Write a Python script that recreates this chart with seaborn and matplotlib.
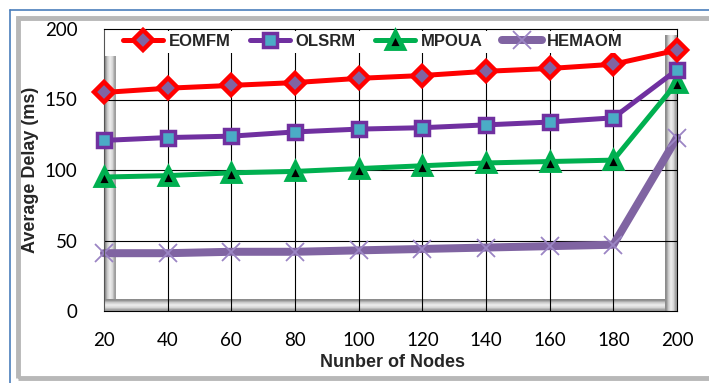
import numpy as np
import pandas as pd
import matplotlib
matplotlib.use("Agg")
import matplotlib.pyplot as plt
import seaborn as sns
from matplotlib.patches import Rectangle
from matplotlib.lines import Line2D

nodes = [20, 40, 60, 80, 100, 120, 140, 160, 180, 200]
eomfm = [155, 158, 160, 162, 165, 167, 170, 172, 175, 185]
olsrm = [121, 123, 124, 127, 129, 130, 132, 134, 137, 171]
mpoua = [95, 96, 98, 99, 101, 103, 105, 106, 107, 162]
hemaom = [41, 41, 42, 42, 43, 44, 45, 46, 47, 123]
yticks = [0, 50, 100, 150, 200]

sns.set_theme(style="white")
plt.rcParams['font.family'] = ['Lato', 'DejaVu Sans']

fig = plt.figure(figsize=(7.09, 3.83), dpi=100)
W, H = 709, 383
ax = fig.add_axes([104 / W, 1 - 311 / H, (677 - 104) / W, (311 - 29) / H])
ax.set_facecolor('white')

# outer decorations
fig.add_artist(Line2D([10 / W, 1], [1 - 10 / H, 1 - 10 / H], transform=fig.transFigure, color='#4a7ebb', lw=1.2))
fig.add_artist(Line2D([10 / W, 10 / W], [0, 1 - 10 / H], transform=fig.transFigure, color='#4a7ebb', lw=1.2))
fig.add_artist(Rectangle((18 / W, 5 / H), 1.0, 1 - 23 / H, transform=fig.transFigure,
                         fill=False, ec='#b8b8b8', lw=3.5, zorder=-1))

# bevel strips (3D wall look)
aw, ah = 573.0, 282.0
def strip(x0, x1, y0, y1, horizontal):
    g = np.array([0.55, 0.80, 0.93, 0.85, 0.62])
    if horizontal:
        arr = np.tile(g[:, None], (1, 20))
    else:
        arr = np.tile(g[None, :], (20, 1))
    ax.imshow(arr, extent=[x0, x1, y0, y1], transform=ax.transAxes, aspect='auto',
              cmap='gray', vmin=0, vmax=1, zorder=0.5, interpolation='bilinear')

strip(0, 12 / aw, 0, (311 - 56) / ah, False)
strip(0, 1, 0, 12 / ah, True)
strip(1 - 12 / aw, 1, 0, (311 - 35) / ah, False)

# grid
for v in [50, 100, 150]:
    ax.axhline(v, color='black', lw=0.8, zorder=1)
for n in nodes[1:-1]:
    ax.axvline(n, color='black', lw=0.8, zorder=1)

lw_px = 0.72
sns.lineplot(x=nodes, y=eomfm, ax=ax, color='#ff0000', lw=5 * lw_px, marker='D', markersize=10,
             markerfacecolor='#8064a2', markeredgecolor='#ff0000', markeredgewidth=3.2,
             label='EOMFM', clip_on=False, zorder=5)
sns.lineplot(x=nodes, y=olsrm, ax=ax, color='#7030a0', lw=5 * lw_px, marker='s', markersize=10,
             markerfacecolor='#4bacc6', markeredgecolor='#7030a0', markeredgewidth=2.5,
             label='OLSRM', clip_on=False, zorder=4)
sns.lineplot(x=nodes, y=mpoua, ax=ax, color='#00b050', lw=5 * lw_px, marker='^', markersize=11,
             markerfacecolor='black', markeredgecolor='#00b050', markeredgewidth=3.5,
             label='MPOUA', clip_on=False, zorder=3)
sns.lineplot(x=nodes, y=hemaom, ax=ax, color='#8064a2', lw=8 * lw_px, marker='x', markersize=13,
             markeredgecolor='#9b85c4', markeredgewidth=1.3,
             label='HEMAOM', clip_on=False, zorder=2)

ax.set_xlim(20, 200)
ax.set_ylim(0, 200)
ax.set_xticks(nodes)
ax.set_yticks(yticks)
ax.tick_params(axis='both', length=0, labelsize=13.5, colors='black')
ax.tick_params(axis='x', pad=15)
ax.tick_params(axis='y', pad=19)
for s in ['left', 'right', 'top', 'bottom']:
    ax.spines[s].set_color('black')
    ax.spines[s].set_linewidth(0.8)
ax.spines['left'].set_color('#555555')

ax.set_xlabel('Nunber of Nodes', fontsize=13, fontweight='bold',
              family=['Liberation Sans', 'DejaVu Sans'])
ax.xaxis.set_label_coords((392 - 104) / 573, -(354 - 311) / 282)
ax.set_ylabel('Average Delay (ms)', fontsize=13, fontweight='bold',
              family=['Liberation Sans', 'DejaVu Sans'])
ax.yaxis.set_label_coords((39 - 104) / 573, (311 - 170) / 282)

leg = ax.legend(loc='center', bbox_to_anchor=(0.47, 0.955), ncol=4, frameon=True,
                facecolor='white', edgecolor='none', framealpha=1, fancybox=False,
                prop={'family': 'Liberation Sans', 'weight': 'bold', 'size': 12},
                handlelength=2.4, columnspacing=1.2, handletextpad=0.3,
                borderpad=0.2)
leg.set_zorder(6)

fig.savefig('out.png', dpi=100)
